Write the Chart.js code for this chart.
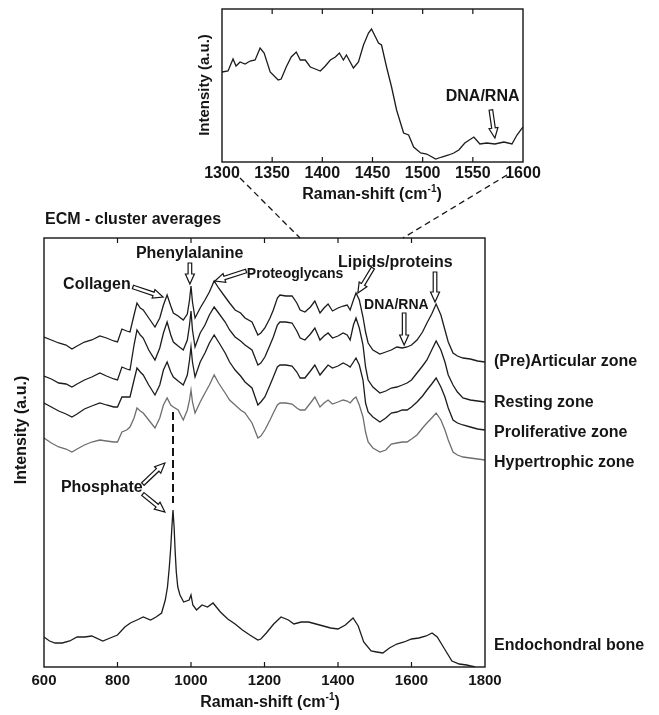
<!DOCTYPE html>
<html>
<head>
<meta charset="utf-8">
<script src="https://cdn.jsdelivr.net/npm/chart.js@4.4.1/dist/chart.umd.min.js"></script>
<style>
html, body { margin: 0; padding: 0; background: #fff; }
#wrap { position: relative; width: 659px; height: 715px; }
#wrap canvas { position: absolute; left: 0; top: 0; }
</style>
</head>
<body>
<div id="wrap">
  <canvas id="mainChart" width="659" height="715"></canvas>
  <canvas id="insetChart" width="659" height="715"></canvas>
</div>
<script>
/* Raman spectra - ECM cluster averages + zoomed inset */

// Raman shift (cm-1) shared by the four zone averages
const shift = [600,620,640,660,676,690,710,730,752,770, 790,800,812,825,834,845,853,862,870,885,
  902,915,925,935,945,952,965,979,990,996, 1000,1004,1011,1025,1038,1050,1063,1075,1093,1105,
  1120,1135,1147,1166,1182,1190,1201,1215,1224,1235, 1242,1258,1275,1288,1297,1310,1325,1337,1351,1362,
  1373,1385,1400,1414,1425,1433,1442,1449,1458,1468, 1475,1482,1495,1514,1530,1545,1560,1575,1588,1600,
  1615,1630,1642,1655,1667,1680,1691,1700,1713,1725, 1740,1760,1780,1800];

// intensities (a.u., already stacked with their offsets)
const articular = [330,327,324,322,318,321,325,327,331,329, 326,325,338,336,335,352,364,359,357,349,
  340,349,362,372,361,354,351,347,353,367, 381,365,349,359,367,375,386,379,370,364,
  357,354,349,345,332,334,339,349,357,369, 372,371,371,364,357,355,360,366,354,359,
  363,356,359,361,362,357,367,374,367,350, 335,324,317,313,315,317,320,319,320,322,
  327,335,344,353,363,352,337,325,314,311, 309,308,306,305];

const resting = [291,288,284,283,280,283,287,290,294,291, 288,287,300,298,297,322,337,332,329,317,
  307,319,334,345,332,325,321,317,327,342, 356,337,320,334,342,352,360,354,345,337,
  330,326,322,317,302,304,310,322,330,342, 345,345,344,336,329,327,333,339,327,331,
  334,329,331,334,332,327,342,349,339,322, 300,287,280,274,276,279,280,282,284,287,
  294,301,307,317,326,317,305,292,282,275, 269,267,266,265];

const proliferative = [264,260,256,253,250,253,258,261,264,262, 260,260,270,270,270,287,299,295,292,282,
  272,282,297,305,295,290,286,282,292,307, 320,305,290,305,314,324,332,325,314,305,
  297,291,285,279,262,265,270,282,290,300, 302,302,301,295,289,289,296,302,292,297,
  302,299,301,304,302,300,305,309,302,287, 264,255,250,245,249,254,255,257,257,260,
  265,271,277,283,289,280,270,259,247,244, 242,240,238,237];

const hypertrophic = [229,224,220,218,215,218,222,225,227,226, 225,225,235,237,240,249,259,256,254,247,
  239,249,262,269,262,260,257,247,257,267, 277,265,254,265,274,282,292,284,274,267,
  262,257,254,244,229,231,237,247,254,262, 264,264,263,259,257,257,264,270,260,264,
  267,263,265,267,266,264,268,270,262,250, 235,225,219,215,217,223,224,225,225,228,
  232,239,244,249,254,247,237,227,215,212, 210,209,208,207];

const boneShift = [600,615,630,650,670,690,710,730,760,780, 800,820,835,853,870,890,905,920,930,936,
  941,945,948,951,954,957,960,964,970,980, 995,1000,1005,1015,1030,1045,1060,1080,1100,1120,
  1140,1160,1182,1190,1205,1225,1245,1265,1280,1300, 1320,1340,1360,1380,1400,1420,1441,1455,1470,1490,
  1505,1522,1540,1560,1580,1600,1620,1640,1656,1670, 1690,1710,1730,1750,1773];
const bone = [30,26,24,24,26,30,30,31,26,29, 32,40,44,47,50,47,50,54,67,80,
  100,120,140,157,140,115,95,80,72,65, 67,72,62,57,62,60,64,55,48,43,
  37,32,27,28,34,43,50,47,43,45, 45,43,41,39,38,42,49,41,25,16,
  15,14,19,23,25,28,29,31,34,30, 18,6,3,2,0];

// inset: 1300-1600 cm-1 detail
const insetShift = [1300,1306,1311,1314,1318,1323,1328,1333,1338,1342, 1348,1356,1359,1364,1369,1374,1378,1383,1388,1393,
  1398,1403,1408,1413,1417,1421,1424,1431,1436,1441, 1446,1449,1453,1456,1459,1464,1469,1474,1481,1486,
  1491,1498,1504,1513,1519,1526,1531,1536,1542,1551, 1557,1564,1572,1581,1589,1594,1600];
const insetVals = [90,91,103,96,100,98,101,102,114,109, 90,82,83,95,105,110,102,102,95,93,
  91,96,102,105,109,102,107,94,100,117, 129,133,125,119,117,95,75,52,29,27,
  15,9,8,3,5,7,9,12,19,25, 18,19,18,20,18,27,35];

const mainTicks = [600, 800, 1000, 1200, 1400, 1600, 1800];
const insetTicks = [1300, 1350, 1400, 1450, 1500, 1550, 1600];
const zoneNames = ['(Pre)Articular zone', 'Resting zone', 'Proliferative zone', 'Hypertrophic zone', 'Endochondral bone'];

const FONT = '"Liberation Sans", Arial, Helvetica, sans-serif';
const INK = '#151515';

function pairs(xs, ys) {
  return xs.map((x, i) => ({ x: x, y: ys[i] }));
}

function hollowArrow(ctx, x1, y1, x2, y2) {
  const ang = Math.atan2(y2 - y1, x2 - x1);
  const len = Math.hypot(x2 - x1, y2 - y1);
  const hl = Math.min(10, len * 0.5), hw = 4.5, sw = 1.8;
  ctx.save();
  ctx.translate(x1, y1);
  ctx.rotate(ang);
  ctx.beginPath();
  ctx.moveTo(0, -sw);
  ctx.lineTo(len - hl, -sw);
  ctx.lineTo(len - hl, -hw);
  ctx.lineTo(len, 0);
  ctx.lineTo(len - hl, hw);
  ctx.lineTo(len - hl, sw);
  ctx.lineTo(0, sw);
  ctx.closePath();
  ctx.fillStyle = '#fff';
  ctx.fill();
  ctx.strokeStyle = INK;
  ctx.lineWidth = 1.2;
  ctx.stroke();
  ctx.restore();
}

// label with superscript "-1"
function ramanTitle(ctx, cx, cy, size) {
  ctx.save();
  ctx.fillStyle = INK;
  ctx.textBaseline = 'middle';
  ctx.font = 'bold ' + size + 'px ' + FONT;
  const a = 'Raman-shift (cm', b = ')';
  const supFont = 'bold ' + Math.round(size * 0.6) + 'px ' + FONT;
  const wa = ctx.measureText(a).width, wb = ctx.measureText(b).width;
  ctx.font = supFont;
  const ws = ctx.measureText('-1').width;
  let x = cx - (wa + ws + wb) / 2;
  ctx.font = 'bold ' + size + 'px ' + FONT;
  ctx.textAlign = 'left';
  ctx.fillText(a, x, cy);
  ctx.font = supFont;
  ctx.fillText('-1', x + wa, cy - size * 0.35);
  ctx.font = 'bold ' + size + 'px ' + FONT;
  ctx.fillText(b, x + wa + ws, cy);
  ctx.restore();
}

function vTitle(ctx, text, cx, cy, size) {
  ctx.save();
  ctx.translate(cx, cy);
  ctx.rotate(-Math.PI / 2);
  ctx.font = 'bold ' + size + 'px ' + FONT;
  ctx.fillStyle = INK;
  ctx.textAlign = 'center';
  ctx.textBaseline = 'middle';
  ctx.fillText(text, 0, 0);
  ctx.restore();
}

// box around the plot, inward tick marks on top and bottom, tick labels below
const framePlugin = {
  id: 'frame',
  afterDatasetsDraw(chart, args, opts) {
    const { ctx, chartArea: a, scales: { x } } = chart;
    ctx.save();
    ctx.strokeStyle = INK;
    ctx.lineWidth = 1.4;
    ctx.strokeRect(a.left, a.top, a.right - a.left, a.bottom - a.top);
    ctx.lineWidth = 1.2;
    ctx.fillStyle = INK;
    ctx.font = 'bold ' + opts.size + 'px ' + FONT;
    ctx.textAlign = 'center';
    ctx.textBaseline = 'middle';
    x.ticks.forEach(t => {
      const px = x.getPixelForValue(t.value);
      ctx.fillText(String(t.value), px, a.bottom + opts.gap);
      if (px <= a.left + 1 || px >= a.right - 1) return;
      ctx.beginPath();
      ctx.moveTo(px, a.bottom);
      ctx.lineTo(px, a.bottom - 5);
      ctx.moveTo(px, a.top);
      ctx.lineTo(px, a.top + 5);
      ctx.stroke();
    });
    ctx.restore();
  }
};

// annotation positions in data space: [shift, intensity]
const mainArrows = [
  [842, 380, 924, 370],
  [997, 404, 997, 383],
  [1150, 396, 1065, 386],
  [1495, 399, 1454, 374],
  [1664, 395, 1664, 365],
  [1580, 354, 1580, 322],
  [869, 183, 929, 204],
  [869, 173, 929, 155]
];
const mainNotes = [
  ['Collagen', 652, 382, 16],
  ['Phenylalanine', 850, 413, 16],
  ['Proteoglycans', 1152, 393, 14],
  ['Lipids/proteins', 1400, 404, 16],
  ['DNA/RNA', 1471, 362, 14],
  ['Phosphate', 646, 179, 16]
];
const zoneLabelAt = [305, 264, 234, 204, 21];

const mainAnnot = {
  id: 'mainAnnot',
  afterDraw(chart) {
    const { ctx, scales: { x, y } } = chart;
    const X = v => x.getPixelForValue(v), Y = v => y.getPixelForValue(v);
    ctx.save();

    // phosphate position marker
    ctx.strokeStyle = INK;
    ctx.lineWidth = 2;
    ctx.setLineDash([8, 4]);
    ctx.beginPath();
    ctx.moveTo(X(951), Y(255));
    ctx.lineTo(X(951), Y(164));
    ctx.stroke();

    // lines to the inset
    ctx.lineWidth = 1.3;
    ctx.setLineDash([6, 4]);
    ctx.beginPath();
    ctx.moveTo(240, 178);
    ctx.lineTo(300, 238);
    ctx.moveTo(507, 175);
    ctx.lineTo(403, 238);
    ctx.stroke();
    ctx.setLineDash([]);

    mainArrows.forEach(a => hollowArrow(ctx, X(a[0]), Y(a[1]), X(a[2]), Y(a[3])));

    ctx.fillStyle = INK;
    ctx.textAlign = 'left';
    ctx.textBaseline = 'middle';
    mainNotes.forEach(n => {
      ctx.font = 'bold ' + n[3] + 'px ' + FONT;
      ctx.fillText(n[0], X(n[1]), Y(n[2]));
    });
    ctx.font = 'bold 16px ' + FONT;
    zoneNames.forEach((name, i) => ctx.fillText(name, 494, Y(zoneLabelAt[i])));
    ctx.fillText('ECM - cluster averages', 45, 220);
    ctx.restore();

    vTitle(ctx, 'Intensity (a.u.)', 22, 430, 16);
    ramanTitle(ctx, 270, 703, 16);
  }
};

const insetAnnot = {
  id: 'insetAnnot',
  afterDraw(chart) {
    const { ctx, scales: { x, y } } = chart;
    hollowArrow(ctx, x.getPixelForValue(1568), y.getPixelForValue(52), x.getPixelForValue(1572), y.getPixelForValue(24));
    ctx.save();
    ctx.fillStyle = INK;
    ctx.font = 'bold 16px ' + FONT;
    ctx.textAlign = 'left';
    ctx.textBaseline = 'middle';
    ctx.fillText('DNA/RNA', x.getPixelForValue(1523), y.getPixelForValue(65));
    ctx.restore();
    vTitle(ctx, 'Intensity (a.u.)', 205, 85, 15);
    ramanTitle(ctx, 372, 195, 16);
  }
};

function xAxis(min, max, ticks) {
  return {
    type: 'linear', min: min, max: max,
    afterBuildTicks: s => { s.ticks = ticks.map(v => ({ value: v })); },
    ticks: { display: false },
    grid: { display: false, drawTicks: false },
    border: { display: false },
    afterFit: s => { s.height = 0; }
  };
}

function line(data, color) {
  return { data: data, borderColor: color, borderWidth: 1.3, pointRadius: 0, tension: 0, fill: false };
}

new Chart(document.getElementById('mainChart'), {
  type: 'line',
  data: {
    datasets: [
      line(pairs(shift, articular), '#1c1c1c'),
      line(pairs(shift, resting), '#1c1c1c'),
      line(pairs(shift, proliferative), '#1c1c1c'),
      line(pairs(shift, hypertrophic), '#6e6e6e'),
      line(pairs(boneShift, bone), '#1c1c1c')
    ]
  },
  options: {
    responsive: false,
    animation: false,
    devicePixelRatio: 1,
    layout: { padding: { left: 44, top: 238, right: 174, bottom: 48 } },
    plugins: { legend: { display: false }, tooltip: { enabled: false }, frame: { size: 15, gap: 14 } },
    scales: {
      x: xAxis(600, 1800, mainTicks),
      y: { display: false, min: 0, max: 429 }
    }
  },
  plugins: [framePlugin, mainAnnot]
});

new Chart(document.getElementById('insetChart'), {
  type: 'line',
  data: { datasets: [line(pairs(insetShift, insetVals), '#1c1c1c')] },
  options: {
    responsive: false,
    animation: false,
    devicePixelRatio: 1,
    layout: { padding: { left: 222, top: 9, right: 136, bottom: 553 } },
    plugins: { legend: { display: false }, tooltip: { enabled: false }, frame: { size: 16, gap: 12 } },
    scales: {
      x: xAxis(1300, 1600, insetTicks),
      y: { display: false, min: 0, max: 153 }
    }
  },
  plugins: [framePlugin, insetAnnot]
});
</script>
</body>
</html>
